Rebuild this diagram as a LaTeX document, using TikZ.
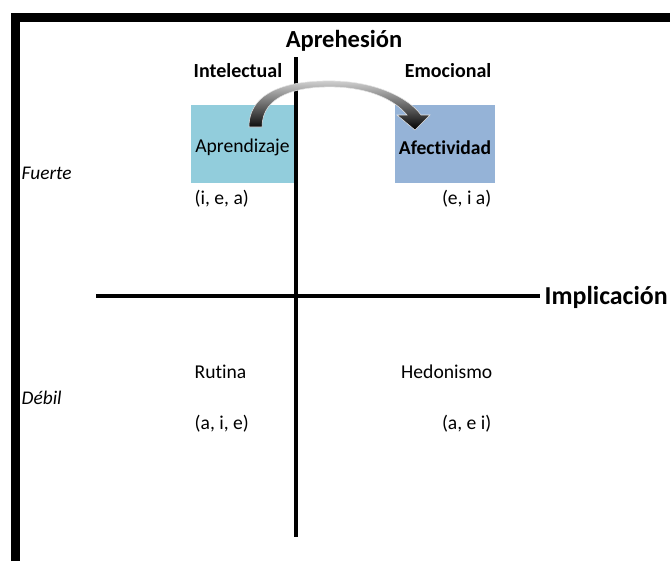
\documentclass[tikz,border=0pt]{standalone}
\usepackage{fontspec}
\setmainfont[Ligatures=NoCommon]{Carlito}
\usetikzlibrary{positioning}
\definecolor{aprendcyan}{RGB}{146,205,220}
\definecolor{afectblue}{RGB}{149,179,215}

\begin{document}
\begin{tikzpicture}[x=0.75pt, y=-0.75pt,
		eje/.style={line width=3pt},
		caja/.style={minimum height=58.5pt, inner sep=0pt},
		titulo/.style={font=\fontsize{18.4}{20}\selectfont\bfseries},
		lado/.style={font=\fontsize{15}{17}\selectfont\bfseries},
		texto/.style={font=\fontsize{14.7}{16}\selectfont},
		fuerza/.style={font=\fontsize{14.5}{16}\selectfont\itshape, anchor=west}]
	%Bildbereich
	\useasboundingbox (0,0) rectangle (670,561);
	\clip (0,0) rectangle (670,561);
	% Rahmen
	\draw[line width=6.75pt] (15,561) -- (15,17.5) -- (670,17.5);
	% Kaesten
	\node[caja, fill=aprendcyan, minimum width=77pt] (aprend) at (242.5,144) {};
	\node[caja, fill=afectblue, minimum width=75pt] (afect) at (445,144) {};
	\node[texto] (aprendtxt) at ([yshift=-2.5pt]aprend.center) {Aprendizaje};
	\node[texto, font=\fontsize{14.7}{16}\selectfont\bfseries] (afecttxt) at ([yshift=-2.5pt]afect.center) {Afectividad};
	% Achsen
	\node[titulo] (apre) at (344,41) {Aprehesión};
	\node[titulo, anchor=west, font=\fontsize{19.4}{21}\selectfont\bfseries] (impl) at (540,297) {Implicación};
	\coordinate (yoben) at (296,57);
	\coordinate (yunten) at (296,537);
	\coordinate (xlinks) at (96,296);
	\draw[eje] (yoben) -- (yunten);
	\draw[eje] (xlinks) -- (xlinks -| impl.west);
	% Beschriftung
	\node[lado, anchor=west] (intel) at (189,71) {Intelectual};
	\node[lado, anchor=east] (emoc) at (496,71) {Emocional};
	\node[fuerza] (fuerte) at (17,173) {Fuerte};
	\node[fuerza] (debil) at (17,398) {Débil};
	\node[texto, anchor=west] (iea) at (190,199) {(i, e, a)};
	\node[texto, anchor=east] (eia) at (496,199) {(e, i a)};
	\node[texto, anchor=west] (rutina) at (190,372) {Rutina};
	\node[texto, anchor=east] (hedon) at (497,372) {Hedonismo};
	\node[texto, anchor=west] (aie) at (190,424) {(a, i, e)};
	\node[texto, anchor=east] (aei) at (496,424) {(a, e i)};
	%Bogenpfeil
	\shade[top color=gray!35, bottom color=black, draw=white!80!gray, line width=0.4pt]
		(249,127) .. controls (249,88) and (295,80) .. (335,81)
		.. controls (375,82) and (408,97) .. (421,115)
		-- (430,115) -- (415,130) -- (397,115) -- (407,115)
		.. controls (394,99) and (368,88) .. (335,87)
		.. controls (298,86) and (262,95) .. (262,127) -- cycle;
\end{tikzpicture}
\end{document}
